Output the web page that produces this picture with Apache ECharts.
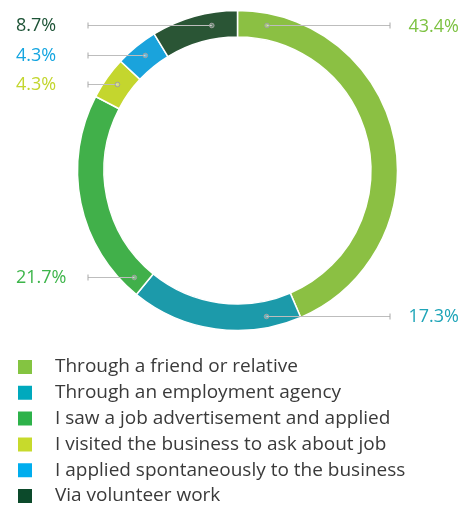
<!DOCTYPE html>
<html>
<head>
<meta charset="utf-8">
<style>
  html, body { margin: 0; padding: 0; background: #fff; }
  #chart { width: 476px; height: 505px; }
</style>
<script src="https://cdn.jsdelivr.net/npm/echarts@6/dist/echarts.min.js"></script>
</head>
<body>
<div id="chart"></div>
<script>
// How people found their job (share of respondents, %)
const categories = [
  'Through a friend or relative',
  'Through an employment agency',
  'I saw a job advertisement and applied',
  'I visited the business to ask about job',
  'I applied spontaneously to the business',
  'Via volunteer work'
];
const shares = [43.4, 17.3, 21.7, 4.3, 4.3, 8.7];
const shareLabels = ['43.4%', '17.3%', '21.7%', '4.3%', '4.3%', '8.7%'];

// Ring colours, legend swatch colours and label colours
const ringColors   = ['#8bc043', '#1c9aaa', '#41b04a', '#c4d62e', '#1aa3dc', '#2a5535'];
const swatchColors = ['#84c441', '#00a9bd', '#2db24a', '#c7da2c', '#00adee', '#0c4a2b'];
const labelColors  = ['#7dc242', '#1fa5b8', '#3db54a', '#c3d62e', '#14a5e0', '#1d5336'];

// Label placement: angle (deg, clockwise from 12 o'clock) where each leader line meets the ring
const anchorAngles = [11.5, 168.7, 224.2, 305.8, 321.5, 350];
const labelOnLeft  = [false, false, true, true, true, true];

const CX = 237.5, CY = 170.5;
const R_IN = 133.5, R_OUT = 160;
const R_ANCHOR = 148;
const LINE_END_LEFT = 88, LINE_END_RIGHT = 390;
const TEXT_LEFT = 16, TEXT_RIGHT = 459;
const FONT = '"Open Sans", "Noto Sans", sans-serif';

function anchorPoint(i) {
  const a = anchorAngles[i] * Math.PI / 180;
  return [CX + R_ANCHOR * Math.sin(a), CY - R_ANCHOR * Math.cos(a)];
}

const chart = echarts.init(document.getElementById('chart'), null, { renderer: 'canvas' });

// leader lines: horizontal rule from the ring out to the label, small ring at the slice end,
// short tick at the outer end
const guides = [];
categories.forEach((c, i) => {
  const [ax, ay] = anchorPoint(i);
  const ex = labelOnLeft[i] ? LINE_END_LEFT : LINE_END_RIGHT;
  const y = Math.round(ay) + 0.5;
  guides.push({
    type: 'line', z: 99,
    shape: { x1: ax, y1: y, x2: ex, y2: y },
    style: { stroke: '#bdbdbd', lineWidth: 1 }
  });
  guides.push({
    type: 'line', z: 100,
    shape: { x1: ex, y1: y - 3, x2: ex, y2: y + 3 },
    style: { stroke: '#a8a8a8', lineWidth: 1 }
  });
  guides.push({
    type: 'circle', z: 101,
    shape: { cx: ax, cy: y, r: 2.3 },
    style: { fill: 'rgba(255,255,255,0.3)', stroke: '#a0a0a0', lineWidth: 1 }
  });
});

chart.setOption({
  animation: false,
  backgroundColor: '#fff',
  legend: {
    orient: 'vertical',
    left: 16,
    top: 357.5,
    padding: 0,
    height: 160,
    itemWidth: 16,
    itemHeight: 16,
    itemGap: 6.8,
    icon: 'rect',
    selectedMode: false,
    data: categories.map((c, i) => ({ name: c, itemStyle: { color: swatchColors[i] } })),
    textStyle: {
      fontFamily: FONT,
      fontSize: 19,
      color: '#3a3a3a',
      padding: [0, 0, 0, 17]
    }
  },
  graphic: guides,
  series: [{
    type: 'pie',
    center: [CX, CY],
    radius: [R_IN, R_OUT],
    startAngle: 90,
    clockwise: true,
    avoidLabelOverlap: false,
    silent: true,
    itemStyle: { borderColor: '#fff', borderWidth: 1.5 },
    label: {
      show: true,
      position: 'outside',
      fontFamily: FONT,
      fontSize: 18,
      formatter: p => shareLabels[p.dataIndex]
    },
    labelLine: { show: false },
    labelLayout: function (params) {
      const i = params.dataIndex;
      const [, ay] = anchorPoint(i);
      const left = labelOnLeft[i];
      return {
        x: left ? TEXT_LEFT : TEXT_RIGHT,
        y: ay + 1,
        align: left ? 'left' : 'right',
        verticalAlign: 'middle'
      };
    },
    data: categories.map((c, i) => ({
      name: c,
      value: shares[i],
      itemStyle: { color: ringColors[i] },
      label: { color: labelColors[i] }
    }))
  }]
});
</script>
</body>
</html>
